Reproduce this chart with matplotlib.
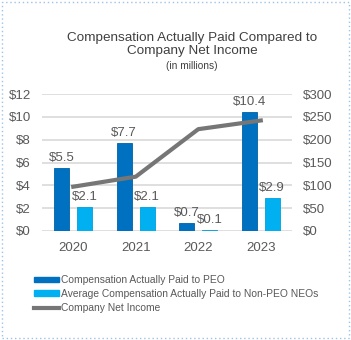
import matplotlib.pyplot as plt
import numpy as np
from matplotlib.patches import Rectangle
from matplotlib.lines import Line2D

years = ['2020', '2021', '2022', '2023']
peo_cap = [5.5, 7.7, 0.7, 10.4]
neo_cap = [2.1, 2.1, 0.1, 2.9]
net_income = [97, 119, 223, 242]

c_peo = '#0070C0'
c_neo = '#00B0F0'
c_line = '#767676'
c_text = '#595959'

plt.rcParams['font.family'] = ['Liberation Sans', 'DejaVu Sans']

fig = plt.figure(figsize=(3.51, 3.40), dpi=100)
ax = fig.add_axes([0.1197, 0.3206, 0.7123, 0.4029])
ax2 = ax.twinx()

x = np.arange(len(years))
w = 0.245
off = 0.184
ax.bar(x - off, peo_cap, w, color=c_peo, edgecolor='#0062A8', linewidth=0.6, zorder=2)
ax.bar(x + off, neo_cap, w, color=c_neo, edgecolor='#00A0DC', linewidth=0.6, zorder=2)

for xi, v in zip(x - off, peo_cap):
    ax.annotate(f'${v:.1f}', (xi, v), xytext=(0, 3), textcoords='offset points',
                ha='center', va='bottom', fontsize=9.5, color=c_text)
for xi, v in zip(x + off, neo_cap):
    ax.annotate(f'${v:.1f}', (xi, v), xytext=(0, 3), textcoords='offset points',
                ha='center', va='bottom', fontsize=9.5, color=c_text)

ax2.plot(x, net_income, color=c_line, linewidth=3, zorder=3)

ax.set_xlim(-0.5, 3.5)
ax.set_ylim(0, 12)
ax.set_yticks(range(0, 13, 2))
ax.set_yticklabels([f'${t}' for t in range(0, 13, 2)])
ax2.set_ylim(0, 300)
ax2.set_yticks(range(0, 301, 50))
ax2.set_yticklabels([f'${t}' for t in range(0, 301, 50)])
ax.set_xticks(x)
ax.set_xticklabels(years)

ax.yaxis.grid(True, color='#D9D9D9', linewidth=1.2, zorder=0)
ax.set_axisbelow(True)
for a in (ax, ax2):
    for s in a.spines.values():
        s.set_visible(False)
    a.tick_params(length=0, labelsize=9.5, colors=c_text)
ax.tick_params(axis='y', pad=8)
ax2.tick_params(axis='y', pad=8)
ax.tick_params(axis='x', pad=8)

fig.text(0.547, 0.869, 'Compensation Actually Paid Compared to\nCompany Net Income',
         ha='center', va='center', fontsize=9.7, color='#404040', linespacing=1.15)
fig.text(0.547, 0.806, '(in millions)', ha='center', va='center', fontsize=7.3, color='#404040')

handles = [Rectangle((0, 0), 1, 1, color=c_peo), Rectangle((0, 0), 1, 1, color=c_neo),
           Line2D([], [], color=c_line, linewidth=3)]
labels = ['Compensation Actually Paid to PEO',
          'Average Compensation Actually Paid to Non-PEO NEOs',
          'Company Net Income']
fig.legend(handles, labels, loc='upper left', bbox_to_anchor=(0.082, 0.206),
           frameon=False, fontsize=7.4, labelcolor=c_text, handlelength=2.4,
           handleheight=0.5, handletextpad=0.2, labelspacing=0.38, borderpad=0)

fig.patches.append(Rectangle((0.006, 0.006), 0.988, 0.988, transform=fig.transFigure,
                             fill=False, edgecolor='#9DC3E6', linestyle=(0, (1, 2)), linewidth=1))

fig.savefig('out.png', dpi=100)
